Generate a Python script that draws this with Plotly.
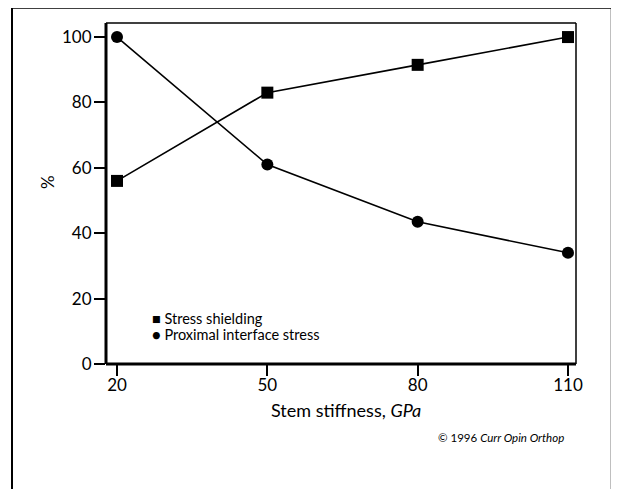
import plotly.graph_objects as go

stiffness = [20, 50, 80, 110]
stress_shielding = [56, 83, 91.5, 100]
proximal_stress = [100, 61, 43.5, 34]
x_ticks = [20, 50, 80, 110]
y_ticks = [0, 20, 40, 60, 80, 100]
series_names = ["Stress shielding", "Proximal interface stress"]

FONT = "Lato"
OFF = 8  # page body margin
W, H = 611, 481
L, R, T, B = 106 - OFF, 43, 23 - OFF, 125
pw, ph = W - L - R, H - T - B

def px(x):
    return (x - OFF - L) / pw

def py(y):
    return (H - B - (y - OFF)) / ph

fig = go.Figure()
fig.add_trace(go.Scatter(
    x=stiffness, y=stress_shielding, mode="lines+markers",
    name=series_names[0], showlegend=False,
    line=dict(color="black", width=1.6),
    marker=dict(symbol="square", size=12, color="black"),
    cliponaxis=False,
))
fig.add_trace(go.Scatter(
    x=stiffness, y=proximal_stress, mode="lines+markers",
    name=series_names[1], showlegend=False,
    line=dict(color="black", width=1.6),
    marker=dict(symbol="circle", size=12, color="black"),
    cliponaxis=False,
))

fig.update_layout(
    width=W, height=H,
    margin=dict(l=L, r=R, t=T, b=B),
    paper_bgcolor="white", plot_bgcolor="white",
    font=dict(family=FONT, color="black", size=17),
    showlegend=False,
    xaxis=dict(
        range=[17.8, 111.6], tickvals=x_ticks, ticktext=[str(v) for v in x_ticks],
        showgrid=False, zeroline=False, showline=False,
        ticks="outside", ticklen=11, tickwidth=1.5, tickcolor="black",
        tickfont=dict(size=17, family=FONT), ticklabelstandoff=-5,
    ),
    yaxis=dict(
        range=[0, 104.3], tickvals=y_ticks, ticktext=[str(v) for v in y_ticks],
        showgrid=False, zeroline=False, showline=False,
        ticks="outside", ticklen=11, tickwidth=1.5, tickcolor="black",
        tickfont=dict(size=17, family=FONT), ticklabelstandoff=-1,
    ),
    shapes=[
        dict(type="line", xref="paper", yref="paper", x0=0, x1=1, y0=1, y1=1, line=dict(color="black", width=1.5)),
        dict(type="line", xref="paper", yref="paper", x0=1, x1=1, y0=0, y1=1, line=dict(color="black", width=1.5)),
        dict(type="line", xref="paper", yref="paper", x0=0, x1=0, y0=0, y1=1, line=dict(color="black", width=3)),
        dict(type="line", xref="paper", yref="paper", x0=0, x1=1, y0=0, y1=0, line=dict(color="black", width=3)),
        # outer frame
        dict(type="line", xref="paper", yref="paper", x0=px(12), x1=px(12), y0=py(8), y1=py(495), line=dict(color="black", width=2)),
        dict(type="line", xref="paper", yref="paper", x0=px(12), x1=px(612), y0=py(8), y1=py(8), line=dict(color="black", width=1.5)),
        dict(type="line", xref="paper", yref="paper", x0=px(612), x1=px(612), y0=py(8), y1=py(495), line=dict(color="black", width=2.5)),
    ],
    annotations=[
        dict(text="%", xref="paper", yref="paper", x=px(47), y=py(182),
             textangle=-90, showarrow=False, xanchor="center", yanchor="middle",
             font=dict(size=17, family=FONT)),
        dict(text="Stem stiffness, <i>GPa</i>", xref="paper", yref="paper",
             x=px(346), y=py(410), showarrow=False, xanchor="center", yanchor="middle",
             font=dict(size=18, family=FONT)),
        dict(text="■ " + series_names[0], xref="paper", yref="paper",
             x=px(150), y=py(318), showarrow=False, xanchor="left", yanchor="middle",
             font=dict(size=14.5, family=FONT)),
        dict(text="● " + series_names[1], xref="paper", yref="paper",
             x=px(150), y=py(334), showarrow=False, xanchor="left", yanchor="middle",
             font=dict(size=14.5, family=FONT)),
        dict(text="© 1996 <i>Curr Opin Orthop</i>", xref="paper", yref="paper",
             x=px(566), y=py(437), xanchor="right", yanchor="middle",
             showarrow=False, font=dict(size=11.5, family=FONT)),
    ],
)

fig.write_html("out.html")
